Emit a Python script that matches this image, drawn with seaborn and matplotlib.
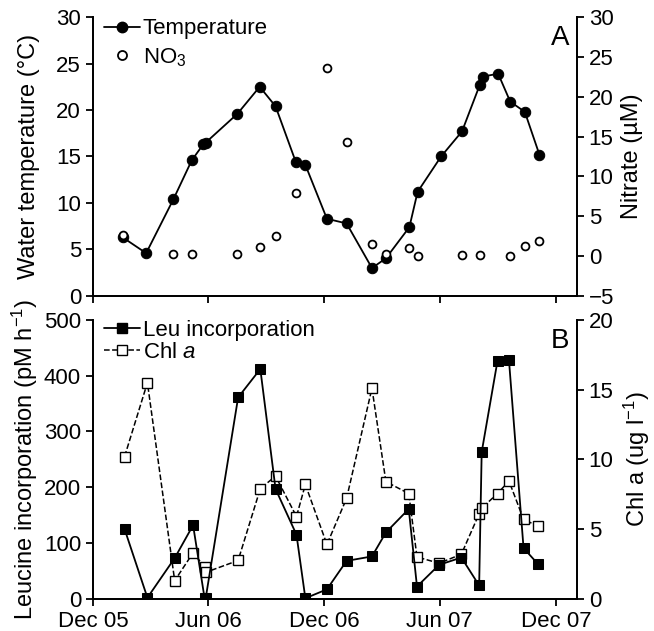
import numpy as np
import pandas as pd
import seaborn as sns
import matplotlib.pyplot as plt
from matplotlib.lines import Line2D

# panel A data
temp_dates = pd.to_datetime(["2006-01-17", "2006-02-23", "2006-04-07", "2006-05-06", "2006-05-24",
                             "2006-05-28", "2006-07-17", "2006-08-21", "2006-09-15", "2006-10-17",
                             "2006-11-01", "2006-12-05", "2007-01-05", "2007-02-14", "2007-03-08",
                             "2007-04-14", "2007-04-27", "2007-06-03", "2007-07-06", "2007-08-03",
                             "2007-08-08", "2007-09-01", "2007-09-20", "2007-10-13", "2007-11-05"])
temperature = [6.3, 4.6, 10.4, 14.6, 16.3, 16.5, 19.6, 22.5, 20.4, 14.4, 14.1, 8.3, 7.8,
               3.0, 4.05, 7.4, 11.2, 15.0, 17.7, 22.7, 23.6, 23.9, 20.9, 19.8, 15.2]
nitrate = [2.7, np.nan, 0.25, 0.25, np.nan, np.nan, 0.25, 1.1, 2.5, 7.9, np.nan, 23.6, 14.3,
           1.5, 0.3, 1.0, 0.0, np.nan, 0.1, 0.2, np.nan, np.nan, 0.05, 1.25, 1.9]

# panel B data
bact_dates = pd.to_datetime(["2006-01-20", "2006-02-25", "2006-04-09", "2006-05-08", "2006-05-26",
                             "2006-05-28", "2006-07-18", "2006-08-22", "2006-09-15", "2006-10-18",
                             "2006-11-01", "2006-12-05", "2007-01-05", "2007-02-14", "2007-03-08",
                             "2007-04-13", "2007-04-26", "2007-05-31", "2007-07-05", "2007-08-02",
                             "2007-08-06", "2007-08-31", "2007-09-18", "2007-10-11", "2007-11-03"])
leucine = [125, 2, 73, 132, 2, 2, 361, 412, 197, 115, 1, 17, 68, 76, 119, 161, 22, 61, 74,
           24, 263, 427, 428, 91, 62]
chla = [10.2, 15.5, 1.3, 3.3, 2.3, 1.9, 2.75, 7.9, 8.8, 5.9, 8.2, 3.9, 7.2, 15.1, 8.4, 7.55,
        3.0, 2.55, 3.2, 6.1, 6.5, 7.55, 8.45, 5.7, 5.2]

xticks = pd.to_datetime(["2005-12-01", "2006-06-01", "2006-12-01", "2007-06-01", "2007-12-01"])
xlabels = ["Dec 05", "Jun 06", "Dec 06", "Jun 07", "Dec 07"]
xlim = (pd.Timestamp("2005-12-01"), pd.Timestamp("2008-01-03"))

sns.set_style("ticks")
plt.rcParams['font.family'] = ['Liberation Sans', 'DejaVu Sans']
plt.rcParams['mathtext.fontset'] = 'custom'
plt.rcParams['mathtext.rm'] = 'Liberation Sans'
plt.rcParams['mathtext.it'] = 'Liberation Sans:italic'
plt.rcParams['font.size'] = 16
plt.rcParams['axes.labelsize'] = 17
plt.rcParams['text.color'] = 'black'
plt.rcParams['axes.labelcolor'] = 'black'
plt.rcParams['xtick.color'] = 'black'
plt.rcParams['ytick.color'] = 'black'
plt.rcParams['axes.edgecolor'] = 'black'
plt.rcParams['axes.linewidth'] = 1.3
plt.rcParams['xtick.major.width'] = 1.3
plt.rcParams['ytick.major.width'] = 1.3
plt.rcParams['xtick.major.size'] = 5
plt.rcParams['ytick.major.size'] = 5

fig = plt.figure(figsize=(6.54, 6.31), dpi=100)
ax1 = fig.add_axes([0.142, 0.531, 0.740, 0.442])
ax2 = fig.add_axes([0.142, 0.051, 0.740, 0.442])

dfA = pd.DataFrame({"date": temp_dates, "temp": temperature, "no3": nitrate})
dfB = pd.DataFrame({"date": bact_dates, "leu": leucine, "chl": chla})

# --- panel A
sns.lineplot(data=dfA, x="date", y="temp", ax=ax1, color="black", lw=1.3,
             marker="o", markersize=7.5, markeredgecolor="black")
ax1r = ax1.twinx()
sns.scatterplot(data=dfA, x="date", y="no3", ax=ax1r, s=32, facecolor="white",
                edgecolor="black", linewidth=1.3, zorder=3)
ax1.set_ylim(0, 30)
ax1.set_yticks([0, 5, 10, 15, 20, 25, 30])
ax1r.set_ylim(-5, 30)
ax1r.set_yticks([-5, 0, 5, 10, 15, 20, 25, 30])
ax1.set_ylabel("Water temperature (°C)")
ax1r.set_ylabel("Nitrate (µM)")
ax1.text(0.985, 0.97, "A", transform=ax1.transAxes, ha="right", va="top", fontsize=20)
h = [Line2D([], [], color="black", marker="o", markersize=7.5, lw=1.3),
     Line2D([], [], color="none", marker="o", markersize=6.5, markerfacecolor="white",
            markeredgecolor="black", markeredgewidth=1.3)]
ax1.legend(h, ["Temperature", "NO$_3$"], loc="upper left", frameon=False,
           bbox_to_anchor=(0.0, 1.035), handlelength=1.6, handletextpad=0.15,
           borderaxespad=0.1, labelspacing=0.3)

# --- panel B
sns.lineplot(data=dfB, x="date", y="leu", ax=ax2, color="black", lw=1.3,
             marker="s", markersize=6.5, markeredgecolor="black", zorder=3)
ax2r = ax2.twinx()
sns.lineplot(data=dfB, x="date", y="chl", ax=ax2r, color="black", lw=1.1, linestyle="--",
             marker="s", markersize=6.5, markerfacecolor="white", markeredgecolor="black",
             markeredgewidth=1)
ax2.set_zorder(ax2r.get_zorder() + 1)
ax2.patch.set_visible(False)
ax2.set_ylim(0, 500)
ax2.set_yticks([0, 100, 200, 300, 400, 500])
ax2r.set_ylim(0, 20)
ax2r.set_yticks([0, 5, 10, 15, 20])
ax2.set_ylabel("Leucine incorporation (pM h$^{-1}$)")
ax2r.set_ylabel("Chl a (ug l$^{-1}$)")
ax2.text(0.985, 0.97, "B", transform=ax2.transAxes, ha="right", va="top", fontsize=20)
h2 = [Line2D([], [], color="black", marker="s", markersize=6.5, lw=1.3),
      Line2D([], [], color="black", marker="s", markersize=6.5, lw=1.1, linestyle="--",
             markerfacecolor="white", markeredgewidth=1)]
ax2.legend(h2, ["Leu incorporation", "Chl $a$"], loc="upper left", frameon=False,
           bbox_to_anchor=(0.0, 1.04), handlelength=1.6, handletextpad=0.15,
           borderaxespad=0.1, labelspacing=0.05)

for a in (ax1, ax2):
    a.yaxis.set_label_coords(-0.11, 0.5)
for a in (ax1r, ax2r):
    a.yaxis.set_label_coords(1.092, 0.5)
    a.spines["right"].set_visible(True)

for a in (ax1, ax1r, ax2, ax2r):
    a.set_xlim(*xlim)
    a.set_xticks(xticks)
    a.set_xlabel("")
    a.spines["top"].set_visible(False)
ax1.set_xticklabels([])
ax2.set_xticklabels(xlabels)

fig.savefig("out.png", dpi=100)
